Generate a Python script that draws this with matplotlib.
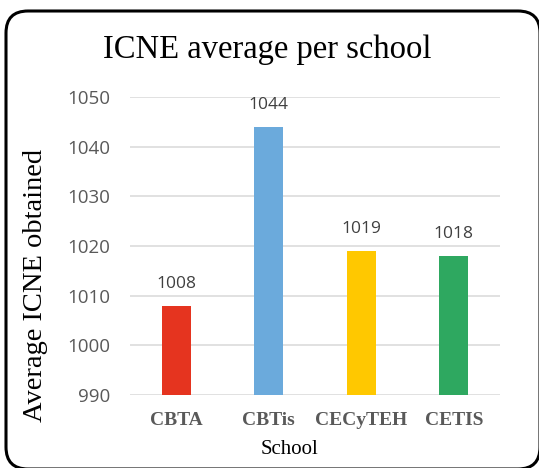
import matplotlib
matplotlib.use("Agg")
import matplotlib.pyplot as plt
from matplotlib.patches import FancyBboxPatch
from matplotlib.transforms import IdentityTransform

schools = ["CBTA", "CBTis", "CECyTEH", "CETIS"]
averages = [1008, 1044, 1019, 1018]
colors = ["#E5341F", "#6BAADC", "#FFC800", "#2EA860"]
yticks = [990, 1000, 1010, 1020, 1030, 1040, 1050]

W, H = 539, 468
fig = plt.figure(figsize=(W / 100, H / 100), dpi=100)
fig.patch.set_facecolor("white")

ax = fig.add_axes([130 / W, 1 - 395 / H, 370 / W, (395 - 97) / H])
x = list(range(len(schools)))
bars = ax.bar(x, [v - 990 for v in averages], bottom=990, width=0.31, color=colors, zorder=3)
ax.set_xlim(-0.5, 3.5)
ax.set_ylim(990, 1050)
ax.set_yticks(yticks)
ax.set_yticklabels([str(t) for t in yticks], fontsize=13.5, color="#595959", family="Open Sans")
ax.set_xticks(x)
ax.set_xticklabels(schools, fontsize=14, fontweight="bold", color="#595959", family="Liberation Serif")
ax.tick_params(axis="both", length=0)
ax.tick_params(axis="y", pad=14)
ax.tick_params(axis="x", pad=12)
ax.grid(axis="y", color="#D9D9D9", linewidth=1.1, zorder=0)
for s in ax.spines.values():
    s.set_visible(False)

for xi, v in zip(x, averages):
    ax.annotate(str(v), (xi, v), xytext=(0, 13), textcoords="offset points",
                ha="center", va="baseline", fontsize=12.5, color="#404040", family="Open Sans")

fig.text(267 / W, 1 - 58 / H, "ICNE average per school", ha="center", va="baseline",
         fontsize=23.5, family="Liberation Serif", color="black")
fig.text(289 / W, 1 - 450 / H, "School", ha="center", va="center",
         fontsize=15, family="Liberation Serif", color="black")
fig.text(36 / W, 1 - 285 / H, "Average ICNE obtained", ha="center", va="center", rotation=90,
         fontsize=20.5, family="Liberation Serif", color="black")

box = FancyBboxPatch((6, -1), 534, 458, boxstyle="round,pad=0,rounding_size=22",
                     transform=IdentityTransform(), facecolor="none", edgecolor="black",
                     linewidth=2.2)
fig.patches.append(box)

fig.savefig("out.png", dpi=100)
